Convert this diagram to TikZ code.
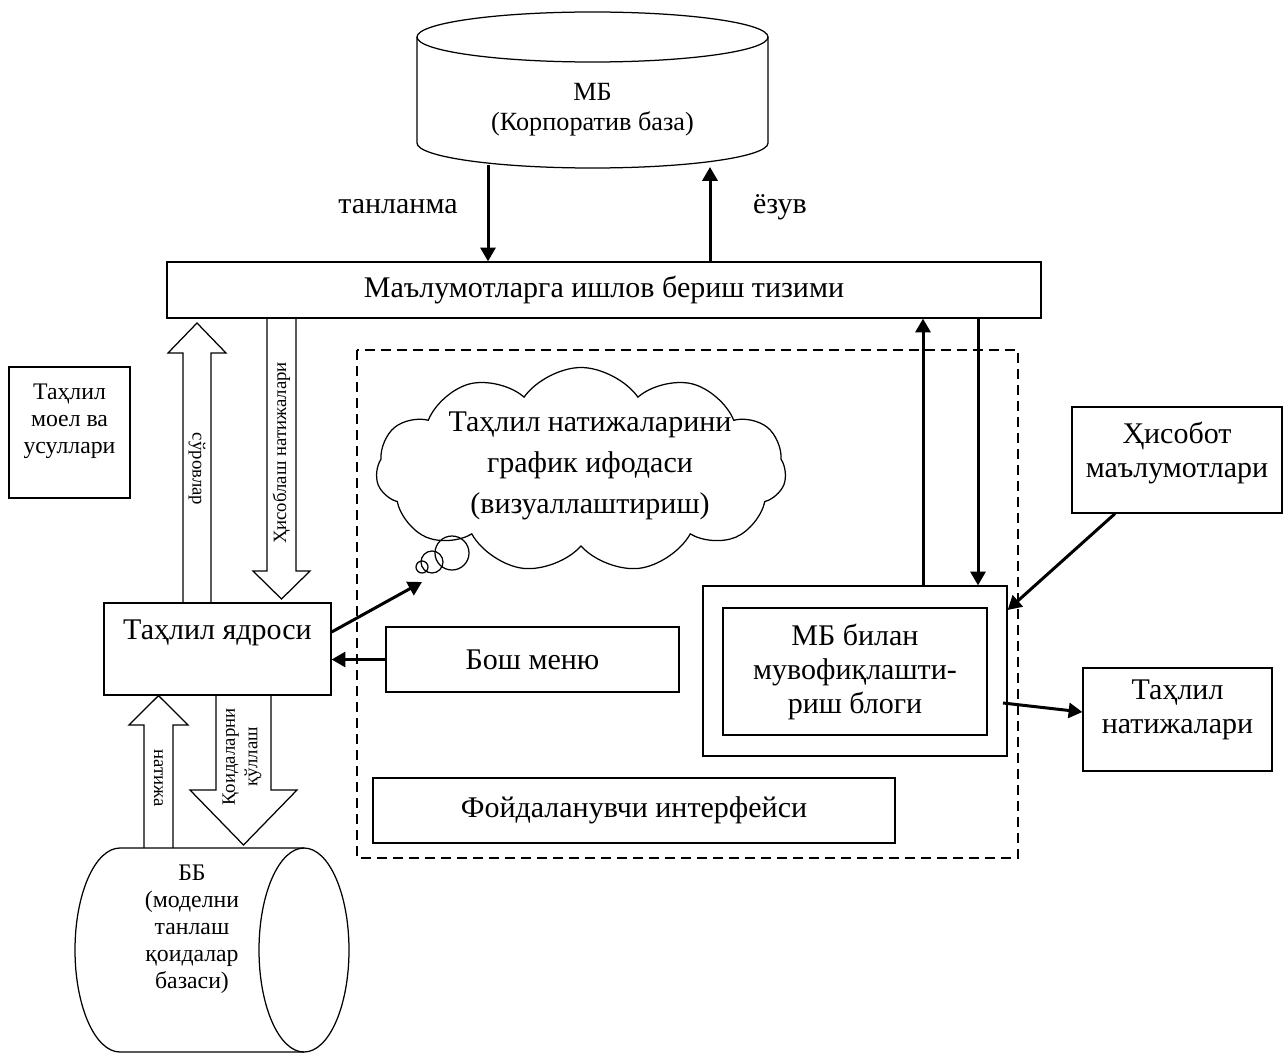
\documentclass[tikz,border=0pt]{standalone}
\usepackage{fontspec}
\setmainfont{Liberation Serif}
\usetikzlibrary{arrows.meta,shapes.symbols}

\begin{document}
\begin{tikzpicture}[x=0.4pt, y=-0.4pt,
    box/.style={rectangle, draw, line width=0.5pt, inner sep=0pt, align=center,
        font=\fontsize{12}{13.8}\selectfont},
    txt/.style={inner sep=0pt, align=center, font=\fontsize{12}{13.8}\selectfont},
    smalltxt/.style={inner sep=0pt, align=center, font=\fontsize{9.5}{10.8}\selectfont},
    tag/.style={inner sep=0pt, align=center, font=\fontsize{7.5}{9}\selectfont},
    cyl/.style={draw, line width=0.5pt},
    hollow/.style={draw, line width=0.5pt},
    flow/.style={line width=1.2pt, -{Triangle[length=5.5pt,width=6pt]}},
    frame/.style={draw, line width=1.1pt, dash pattern=on 4pt off 2.4pt}
]
\useasboundingbox (0,0) rectangle (1284,1052);

\draw[frame] (357,350) rectangle (1018,858);

\draw[cyl] (417,37) -- (417,143) arc[start angle=180, end angle=360, x radius=70.2pt, y radius=10pt] -- (768,37);
\draw[cyl] (592.5,37) ellipse[x radius=70.2pt, y radius=10pt];
\node[txt, font=\fontsize{10.5}{12}\selectfont] (mb) at (592.5,110) {МБ\\(Корпоратив база)};
\coordinate (mbout1) at (488,165);
\coordinate (mbin1) at (710,167);

\node[box, minimum width=349.6pt, minimum height=22.4pt] (main) at (604,290) {Маълумотларга ишлов бериш тизими};

\draw[flow] (mbout1) -- (main.north -| mbout1);
\draw[flow] (main.north -| mbin1) -- (mbin1);
\node[txt] (tanlanma) at (398,207) {танланма};
\node[txt] (ezuv) at (780,207) {ёзув};

\node[box, minimum width=48.4pt, minimum height=52.4pt] (models) at (69.5,432.5) {};
\node[smalltxt, anchor=north] (modelstxt) at (69.5,383) {Таҳлил\\моел ва\\усуллари};

\node[box, minimum width=90.8pt, minimum height=36.8pt] (core) at (217.5,649) {};
\node[txt] (coretxt) at (217.5,633) {Таҳлил ядроси};

\draw[hollow] (core.north -| 183,0) -- (183,353) -- (168,353) -- (197,323) -- (226,353) -- (211,353) -- (core.north -| 211,0);
\node[tag, rotate=-90] (surov) at (197,469) {сўровлар};
\draw[hollow] (main.south -| 267,0) -- (267,571) -- (253,571) -- (281.5,599) -- (310,571) -- (296,571) -- (main.south -| 296,0);
\node[tag, rotate=90] (hisob) at (281.5,453) {Ҳисоблаш натижалари};

\draw[cyl] (304,848) -- (120,848) arc[start angle=90, end angle=270, x radius=18pt, y radius=40.8pt] -- (304,1052);
\draw[cyl] (304,950) ellipse[x radius=18pt, y radius=40.8pt];
\node[smalltxt] (bb) at (192,929) {ББ\\(моделни\\танлаш\\қоидалар\\базаси)};

\draw[hollow] (144,848) -- (144,725) -- (129,725) -- (core.south -| 158.5,0) -- (188,725) -- (173,725) -- (173,848);
\node[tag, rotate=-90] (natija) at (158.5,778) {натижа};
\draw[hollow] (core.south -| 216,0) -- (216,790) -- (190,790) -- (243.5,845) -- (297,790) -- (271,790) -- (core.south -| 271,0);
\node[tag, rotate=90] (qoida) at (242,757) {Қоидаларни\\қўллаш};

\node[cloud, draw, line width=0.5pt, cloud puffs=11, cloud puff arc=110, aspect=2,
    minimum width=164pt, minimum height=82pt, inner sep=0pt] (viz) at (581,470) {};
\node[txt, font=\fontsize{12}{16.4}\selectfont] (viztxt) at (590,466) {Таҳлил натижаларини\\график ифодаси\\(визуаллаштириш)};
\draw[line width=0.5pt] (452,553) circle[radius=6.8pt];
\draw[line width=0.5pt] (432,562) circle[radius=4.4pt];
\draw[line width=0.5pt] (422,567) circle[radius=2.4pt];
\coordinate (bub) at (422,582);
\draw[flow] (core.east |- 0,632) -- (bub);

\node[box, minimum width=117.2pt, minimum height=26pt] (menu) at (532.5,659.5) {Бош меню};
\draw[flow] (menu.west) -- (core.east |- menu.west);

\node[box, minimum width=208.8pt, minimum height=26pt] (ui) at (634,810.5) {Фойдаланувчи интерфейси};

\node[box, minimum width=121.6pt, minimum height=68pt] (mbout) at (855,671) {};
\node[box, minimum width=105.6pt, minimum height=50.8pt, font=\fontsize{12}{13.6}\selectfont] (mbin) at (855,671.5) {МБ билан\\мувофиқлашти-\\риш блоги};
\draw[flow] (mbout.north -| 923,0) -- (main.south -| 923,0);
\draw[flow] (main.south -| 978,0) -- (mbout.north -| 978,0);

\node[box, minimum width=84pt, minimum height=42.4pt] (report) at (1177,460) {};
\node[txt] (reporttxt) at (1177,453) {Ҳисобот\\маълумотлари};
\draw[flow] (report.south -| 1115,0) -- (mbout.east |- 0,610);

\node[box, minimum width=75.6pt, minimum height=41.2pt] (result) at (1177.5,719.5) {};
\node[txt] (resulttxt) at (1177.5,710) {Таҳлил\\натижалари};
\coordinate (mbexit) at (1003,703);
\draw[flow] (mbexit) -- (result.west |- 0,712);

\end{tikzpicture}
\end{document}
